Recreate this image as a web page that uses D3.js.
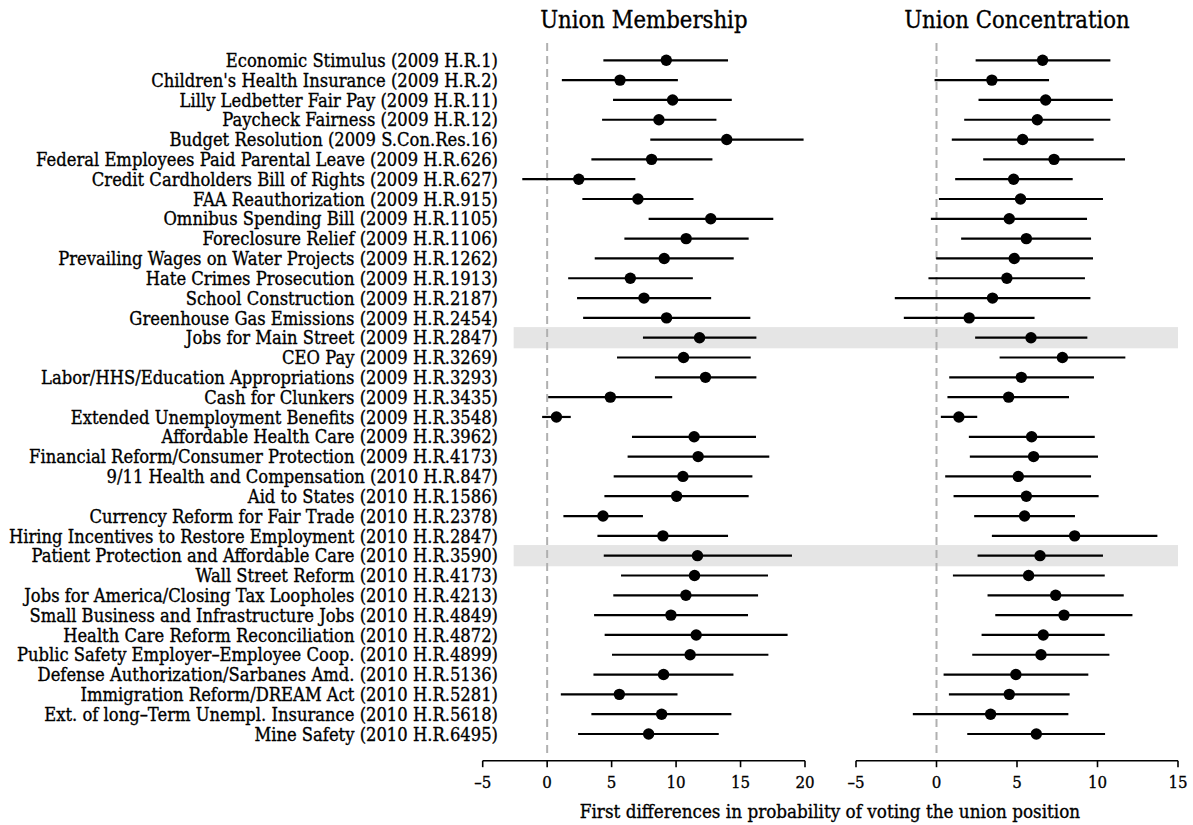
<!DOCTYPE html>
<html>
<head>
<meta charset="utf-8">
<script src="https://cdn.jsdelivr.net/npm/d3@7"></script>
<style>
  body { margin: 0; background: #fff; }
  svg text { font-family: "DejaVu Serif", serif; fill: #000; stroke: #000; stroke-width: 0.35px; }
</style>
</head>
<body>
<svg id="chart" width="1193" height="825"></svg>
<script>
const bills = [
    "Economic Stimulus (2009 H.R.1)",
    "Children's Health Insurance (2009 H.R.2)",
    "Lilly Ledbetter Fair Pay (2009 H.R.11)",
    "Paycheck Fairness (2009 H.R.12)",
    "Budget Resolution (2009 S.Con.Res.16)",
    "Federal Employees Paid Parental Leave (2009 H.R.626)",
    "Credit Cardholders Bill of Rights (2009 H.R.627)",
    "FAA Reauthorization (2009 H.R.915)",
    "Omnibus Spending Bill (2009 H.R.1105)",
    "Foreclosure Relief (2009 H.R.1106)",
    "Prevailing Wages on Water Projects (2009 H.R.1262)",
    "Hate Crimes Prosecution (2009 H.R.1913)",
    "School Construction (2009 H.R.2187)",
    "Greenhouse Gas Emissions (2009 H.R.2454)",
    "Jobs for Main Street (2009 H.R.2847)",
    "CEO Pay (2009 H.R.3269)",
    "Labor/HHS/Education Appropriations (2009 H.R.3293)",
    "Cash for Clunkers (2009 H.R.3435)",
    "Extended Unemployment Benefits (2009 H.R.3548)",
    "Affordable Health Care (2009 H.R.3962)",
    "Financial Reform/Consumer Protection (2009 H.R.4173)",
    "9/11 Health and Compensation (2010 H.R.847)",
    "Aid to States (2010 H.R.1586)",
    "Currency Reform for Fair Trade (2010 H.R.2378)",
    "Hiring Incentives to Restore Employment (2010 H.R.2847)",
    "Patient Protection and Affordable Care (2010 H.R.3590)",
    "Wall Street Reform (2010 H.R.4173)",
    "Jobs for America/Closing Tax Loopholes (2010 H.R.4213)",
    "Small Business and Infrastructure Jobs (2010 H.R.4849)",
    "Health Care Reform Reconciliation (2010 H.R.4872)",
    "Public Safety Employer\u2013Employee Coop. (2010 H.R.4899)",
    "Defense Authorization/Sarbanes Amd. (2010 H.R.5136)",
    "Immigration Reform/DREAM Act (2010 H.R.5281)",
    "Ext. of long\u2013Term Unempl. Insurance (2010 H.R.5618)",
    "Mine Safety (2010 H.R.6495)"
];

// Union Membership: estimate, lower, upper
const memberEst = [9.24, 5.65, 9.73, 8.67, 13.93, 8.10, 2.45, 7.04, 12.69, 10.78, 9.08, 6.45, 7.51, 9.26, 11.82, 10.58, 12.28, 4.90, 0.72, 11.40, 11.71, 10.53, 10.04, 4.33, 8.98, 11.66, 11.43, 10.76, 9.60, 11.56, 11.09, 9.03, 5.60, 8.88, 7.87];
const memberLo  = [4.36, 1.14, 5.11, 4.26, 8.00, 3.43, -1.93, 2.73, 7.87, 5.99, 3.69, 1.63, 2.32, 2.79, 7.43, 5.42, 8.36, 0.08, -0.39, 6.58, 6.24, 5.16, 4.44, 1.26, 3.90, 4.39, 5.73, 5.13, 3.64, 4.46, 5.03, 3.59, 1.06, 3.43, 2.40];
const memberHi  = [14.03, 10.14, 14.32, 13.13, 19.89, 12.82, 6.84, 11.35, 17.54, 15.63, 14.47, 11.30, 12.72, 15.76, 16.23, 15.79, 16.23, 9.70, 1.83, 16.20, 17.23, 15.92, 15.63, 7.43, 14.03, 18.99, 17.13, 16.36, 15.58, 18.65, 17.16, 14.45, 10.11, 14.29, 13.31];

// Union Concentration: estimate, lower, upper
const concEst = [6.59, 3.44, 6.78, 6.26, 5.35, 7.30, 4.79, 5.22, 4.52, 5.58, 4.83, 4.37, 3.48, 2.03, 5.87, 7.82, 5.27, 4.48, 1.39, 5.91, 6.03, 5.08, 5.58, 5.47, 8.58, 6.43, 5.72, 7.40, 7.92, 6.63, 6.49, 4.93, 4.52, 3.36, 6.20];
const concLo  = [2.43, -0.12, 2.61, 1.72, 0.95, 2.90, 1.16, 0.15, -0.35, 1.53, -0.02, -0.50, -2.59, -2.03, 2.40, 3.92, 0.79, 0.68, 0.27, 2.01, 2.07, 0.54, 1.06, 2.34, 3.44, 2.55, 1.02, 3.17, 3.65, 2.80, 2.22, 0.44, 0.77, -1.47, 1.91];
const concHi  = [10.80, 6.99, 10.95, 10.80, 9.76, 11.71, 8.46, 10.34, 9.35, 9.60, 9.72, 9.22, 9.56, 6.09, 9.37, 11.73, 9.78, 8.23, 2.53, 9.83, 10.03, 9.60, 10.07, 8.60, 13.72, 10.34, 10.45, 11.63, 12.17, 10.45, 10.74, 9.43, 8.27, 8.19, 10.47];

const highlighted = ["Jobs for Main Street (2009 H.R.2847)", "Patient Protection and Affordable Care (2010 H.R.3590)"];

const memberTicks = [-5, 0, 5, 10, 15, 20];
const concTicks = [-5, 0, 5, 10, 15];

const svg = d3.select("#chart");

const y = d3.scalePoint()
    .domain(bills)
    .range([60.3, 734]);

const panels = [
    {title: "Union Membership", est: memberEst, lo: memberLo, hi: memberHi, ticks: memberTicks,
     x: d3.scaleLinear().domain([-5, 20]).range([482.7, 805])},
    {title: "Union Concentration", est: concEst, lo: concLo, hi: concHi, ticks: concTicks,
     x: d3.scaleLinear().domain([-5, 15]).range([856, 1178])}
];

// text in the reference is a bit narrower than DejaVu Serif, squeeze it
const probe = svg.append("text").attr("font-size", 18.5)
    .text("Federal Employees Paid Parental Leave (2009 H.R.626)");
const sx = 462 / probe.node().getComputedTextLength();
probe.remove();

// grey bands behind highlighted bills
const xl = panels[0].x, xr = panels[1].x;
svg.append("g")
    .selectAll("rect")
    .data(highlighted)
    .join("rect")
    .attr("x", xl(-2.6))
    .attr("width", xr(15) - xl(-2.6))
    .attr("y", d => y(d) - 10.6)
    .attr("height", 21.2)
    .attr("fill", "#e5e5e5");

// row labels
svg.append("g")
    .attr("transform", `translate(498,0) scale(${sx},1)`)
    .selectAll("text")
    .data(bills)
    .join("text")
    .attr("x", 0)
    .attr("y", d => y(d))
    .attr("dy", "0.36em")
    .attr("text-anchor", "end")
    .attr("font-size", 18.5)
    .text(d => d);

panels.forEach(p => {
    const x = p.x;
    const g = svg.append("g");
    const rows = bills.map((b, i) => ({bill: b, est: p.est[i], lo: p.lo[i], hi: p.hi[i]}));

    // zero reference line
    g.append("line")
        .attr("x1", x(0)).attr("x2", x(0))
        .attr("y1", 43).attr("y2", 758)
        .attr("stroke", "#b0b0b0")
        .attr("stroke-width", 2)
        .attr("stroke-dasharray", "8,5");

    // intervals
    g.append("g")
        .selectAll("line")
        .data(rows)
        .join("line")
        .attr("x1", d => x(d.lo))
        .attr("x2", d => x(d.hi))
        .attr("y1", d => y(d.bill))
        .attr("y2", d => y(d.bill))
        .attr("stroke", "#000")
        .attr("stroke-width", 2.2);

    // point estimates
    g.append("g")
        .selectAll("circle")
        .data(rows)
        .join("circle")
        .attr("cx", d => x(d.est))
        .attr("cy", d => y(d.bill))
        .attr("r", 5.7)
        .attr("fill", "#000");

    // axis
    const axis = g.append("g").attr("transform", "translate(0,760.7)");
    axis.append("line")
        .attr("x1", x(p.ticks[0]))
        .attr("x2", x(p.ticks[p.ticks.length - 1]))
        .attr("stroke", "#000")
        .attr("stroke-width", 1.6);
    axis.selectAll(".tick")
        .data(p.ticks)
        .join("line")
        .attr("class", "tick")
        .attr("x1", d => x(d)).attr("x2", d => x(d))
        .attr("y1", 0).attr("y2", 6.5)
        .attr("stroke", "#000")
        .attr("stroke-width", 1.6);
    axis.selectAll(".tl")
        .data(p.ticks)
        .join("text")
        .attr("class", "tl")
        .attr("transform", d => `translate(${x(d)},27.5) scale(${sx},1)`)
        .attr("text-anchor", "middle")
        .attr("font-size", 17)
        .text(d => d < 0 ? "\u2013" + Math.abs(d) : d);

    // panel title
    const [a, b] = x.range();
    svg.append("text")
        .attr("transform", `translate(${(a + b) / 2},28) scale(${sx},1)`)
        .attr("text-anchor", "middle")
        .attr("font-size", 24)
        .text(p.title);
});

svg.append("text")
    .attr("transform", `translate(830,818) scale(${sx},1)`)
    .attr("text-anchor", "middle")
    .attr("font-size", 19)
    .text("First differences in probability of voting the union position");
</script>
</body>
</html>
